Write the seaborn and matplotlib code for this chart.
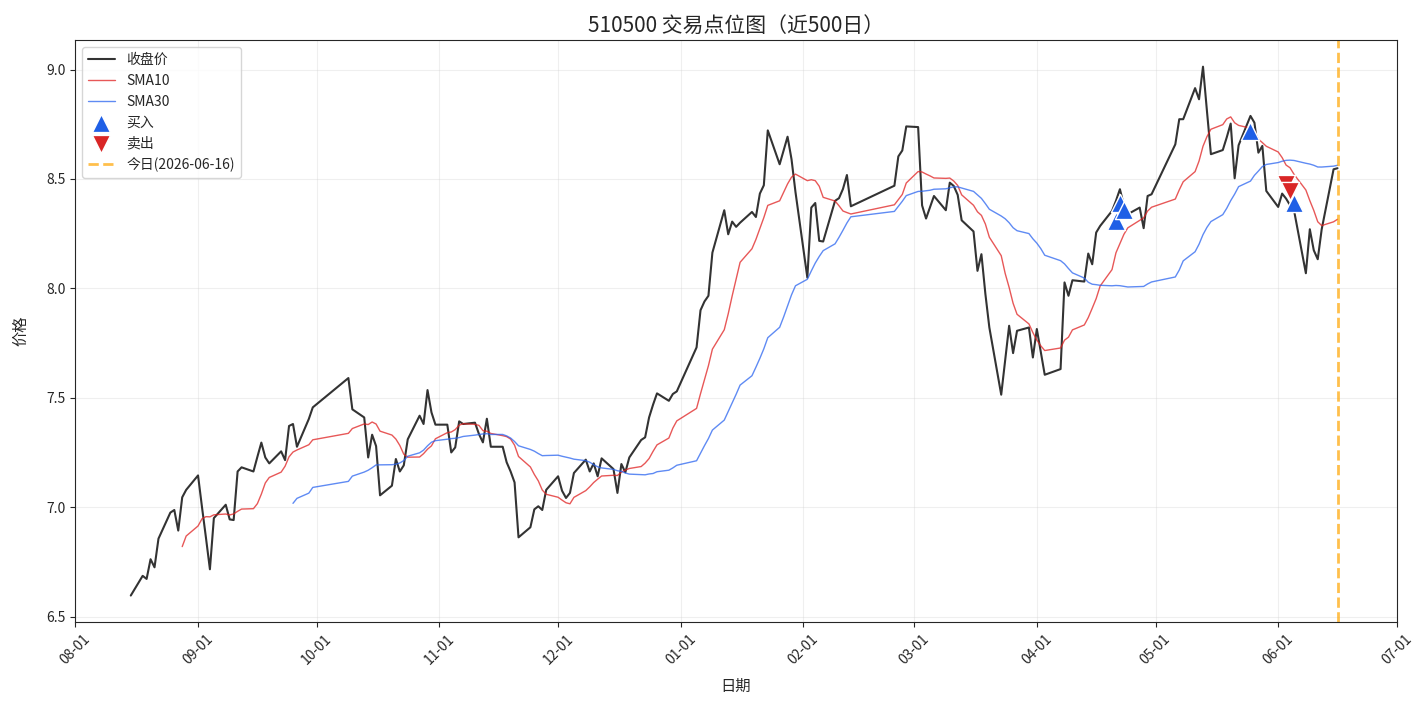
import pandas as pd
import seaborn as sns
import matplotlib.pyplot as plt
import matplotlib.dates as mdates

# --- dados ---
dates = [
    '2025-08-15', '2025-08-18', '2025-08-19', '2025-08-20', '2025-08-21', '2025-08-22',
    '2025-08-25', '2025-08-26', '2025-08-27', '2025-08-28', '2025-08-29',
    '2025-09-01', '2025-09-02', '2025-09-03', '2025-09-04', '2025-09-05',
    '2025-09-08', '2025-09-09', '2025-09-10', '2025-09-11', '2025-09-12',
    '2025-09-15', '2025-09-16', '2025-09-17', '2025-09-18', '2025-09-19',
    '2025-09-22', '2025-09-23', '2025-09-24', '2025-09-25', '2025-09-26',
    '2025-09-29', '2025-09-30',
    '2025-10-09', '2025-10-10', '2025-10-13', '2025-10-14', '2025-10-15', '2025-10-16',
    '2025-10-17', '2025-10-20', '2025-10-21', '2025-10-22', '2025-10-23', '2025-10-24',
    '2025-10-27', '2025-10-28', '2025-10-29', '2025-10-30', '2025-10-31',
    '2025-11-03', '2025-11-04', '2025-11-05', '2025-11-06', '2025-11-07',
    '2025-11-10', '2025-11-11', '2025-11-12', '2025-11-13', '2025-11-14',
    '2025-11-17', '2025-11-18', '2025-11-19', '2025-11-20', '2025-11-21',
    '2025-11-24', '2025-11-25', '2025-11-26', '2025-11-27', '2025-11-28',
    '2025-12-01', '2025-12-02', '2025-12-03', '2025-12-04', '2025-12-05',
    '2025-12-08', '2025-12-09', '2025-12-10', '2025-12-11', '2025-12-12',
    '2025-12-15', '2025-12-16', '2025-12-17', '2025-12-18', '2025-12-19',
    '2025-12-22', '2025-12-23', '2025-12-24', '2025-12-25', '2025-12-26',
    '2025-12-29', '2025-12-30', '2025-12-31',
    '2026-01-05', '2026-01-06', '2026-01-07', '2026-01-08', '2026-01-09',
    '2026-01-12', '2026-01-13', '2026-01-14', '2026-01-15', '2026-01-16',
    '2026-01-19', '2026-01-20', '2026-01-21', '2026-01-22', '2026-01-23',
    '2026-01-26', '2026-01-27', '2026-01-28', '2026-01-29', '2026-01-30',
    '2026-02-02', '2026-02-03', '2026-02-04', '2026-02-05', '2026-02-06',
    '2026-02-09', '2026-02-10', '2026-02-11', '2026-02-12', '2026-02-13',
    '2026-02-24', '2026-02-25', '2026-02-26', '2026-02-27',
    '2026-03-02', '2026-03-03', '2026-03-04', '2026-03-05', '2026-03-06',
    '2026-03-09', '2026-03-10', '2026-03-11', '2026-03-12', '2026-03-13',
    '2026-03-16', '2026-03-17', '2026-03-18', '2026-03-19', '2026-03-20',
    '2026-03-23', '2026-03-24', '2026-03-25', '2026-03-26', '2026-03-27',
    '2026-03-30', '2026-03-31',
    '2026-04-01', '2026-04-02', '2026-04-03',
    '2026-04-07', '2026-04-08', '2026-04-09', '2026-04-10',
    '2026-04-13', '2026-04-14', '2026-04-15', '2026-04-16', '2026-04-17',
    '2026-04-20', '2026-04-21', '2026-04-22', '2026-04-23', '2026-04-24',
    '2026-04-27', '2026-04-28', '2026-04-29', '2026-04-30',
    '2026-05-06', '2026-05-07', '2026-05-08',
    '2026-05-11', '2026-05-12', '2026-05-13', '2026-05-14', '2026-05-15',
    '2026-05-18', '2026-05-19', '2026-05-20', '2026-05-21', '2026-05-22',
    '2026-05-25', '2026-05-26', '2026-05-27', '2026-05-28', '2026-05-29',
    '2026-06-01', '2026-06-02', '2026-06-03', '2026-06-04', '2026-06-05',
    '2026-06-08', '2026-06-09', '2026-06-10', '2026-06-11', '2026-06-12',
    '2026-06-15', '2026-06-16',
]

close = [
    6.596, 6.686, 6.672, 6.762, 6.725, 6.856,
    6.975, 6.987, 6.893, 7.045, 7.079,
    7.145, 7.000, 6.860, 6.716, 6.950,
    7.011, 6.944, 6.941, 7.163, 7.182,
    7.163, 7.230, 7.295, 7.227, 7.200,
    7.255, 7.215, 7.371, 7.380, 7.276,
    7.403, 7.456,
    7.590, 7.447, 7.410, 7.227, 7.331, 7.279,
    7.054, 7.098, 7.220, 7.163, 7.191, 7.310,
    7.418, 7.380, 7.535, 7.433, 7.377,
    7.377, 7.250, 7.273, 7.392, 7.380,
    7.386, 7.334, 7.296, 7.404, 7.276,
    7.276, 7.205, 7.163, 7.113, 6.862,
    6.908, 6.990, 7.004, 6.987, 7.079,
    7.141, 7.075, 7.042, 7.065, 7.156,
    7.217, 7.163, 7.200, 7.141, 7.223,
    7.174, 7.065, 7.197, 7.159, 7.227,
    7.307, 7.319, 7.410, 7.468, 7.520,
    7.486, 7.517, 7.529,
    7.730, 7.900, 7.940, 7.966, 8.163,
    8.357, 8.247, 8.305, 8.281, 8.300,
    8.349, 8.326, 8.433, 8.471, 8.722,
    8.567, 8.630, 8.693, 8.590, 8.440,
    8.049, 8.369, 8.390, 8.217, 8.214,
    8.400, 8.412, 8.454, 8.518, 8.375,
    8.469, 8.603, 8.630, 8.740,
    8.737, 8.379, 8.319, 8.370, 8.422,
    8.357, 8.483, 8.468, 8.427, 8.311,
    8.260, 8.080, 8.156, 7.974, 7.821,
    7.514, 7.670, 7.829, 7.704, 7.806,
    7.821, 7.684,
    7.814, 7.710, 7.605,
    7.631, 8.027, 7.966, 8.037,
    8.031, 8.159, 8.110, 8.255, 8.285,
    8.354, 8.400, 8.453, 8.380, 8.339,
    8.369, 8.275, 8.422, 8.430,
    8.658, 8.773, 8.773,
    8.915, 8.864, 9.013, 8.810, 8.613,
    8.632, 8.690, 8.753, 8.503, 8.654,
    8.788, 8.757, 8.620, 8.651, 8.445,
    8.372, 8.433, 8.410, 8.380, 8.357,
    8.069, 8.270, 8.174, 8.133, 8.270,
    8.544, 8.549,
]

buy_dates = ['2026-04-21', '2026-04-22', '2026-04-23', '2026-05-25', '2026-06-05']
buy_prices = [8.308, 8.390, 8.358, 8.717, 8.388]
sell_dates = ['2026-06-03', '2026-06-04']
sell_prices = [8.479, 8.447]
today = '2026-06-16'

# --- preparação ---
df = pd.DataFrame({'date': pd.to_datetime(dates), 'close': close})
df['sma10'] = df['close'].rolling(10).mean()
df['sma30'] = df['close'].rolling(30).mean()
buys = pd.DataFrame({'date': pd.to_datetime(buy_dates), 'price': buy_prices})
sells = pd.DataFrame({'date': pd.to_datetime(sell_dates), 'price': sell_prices})

sns.set_style("ticks")
plt.rcParams['font.family'] = ['Noto Sans CJK SC', 'DejaVu Sans']
plt.rcParams['axes.unicode_minus'] = False

fig, ax = plt.subplots(figsize=(14.27, 7.06), dpi=100)

sns.lineplot(data=df, x='date', y='close', color='black', alpha=0.8, linewidth=1.5,
             label='收盘价', ax=ax)
sns.lineplot(data=df, x='date', y='sma10', color='#e02020', alpha=0.75, linewidth=1,
             label='SMA10', ax=ax)
sns.lineplot(data=df, x='date', y='sma30', color='#2a64f0', alpha=0.75, linewidth=1,
             label='SMA30', ax=ax)
sns.scatterplot(data=buys, x='date', y='price', marker='^', s=170, color='#1f5fe6',
                edgecolor='white', linewidth=1, zorder=5, label='买入', ax=ax)
sns.scatterplot(data=sells, x='date', y='price', marker='v', s=170, color='#d92626',
                edgecolor='white', linewidth=1, zorder=5, label='卖出', ax=ax)
ax.axvline(pd.Timestamp(today), color='orange', linestyle='--', linewidth=2, alpha=0.7,
           label=f'今日({today})')

ax.set_title('510500 交易点位图（近500日）', fontsize=15)
ax.set_xlabel('日期', fontsize=11, labelpad=8)
ax.set_ylabel('价格', fontsize=11, labelpad=12)
ax.xaxis.set_major_locator(mdates.MonthLocator())
ax.xaxis.set_major_formatter(mdates.DateFormatter('%m-%d'))
ax.set_xlim(pd.Timestamp('2025-07-31 22:00'), pd.Timestamp('2026-07-01 01:00'))
plt.setp(ax.get_xticklabels(), rotation=45)
ax.grid(True, alpha=0.3)
ax.legend(loc='upper left', fontsize=10)

fig.subplots_adjust(left=0.0526, right=0.979, top=0.943, bottom=0.119)
fig.savefig('out.png', dpi=100)
